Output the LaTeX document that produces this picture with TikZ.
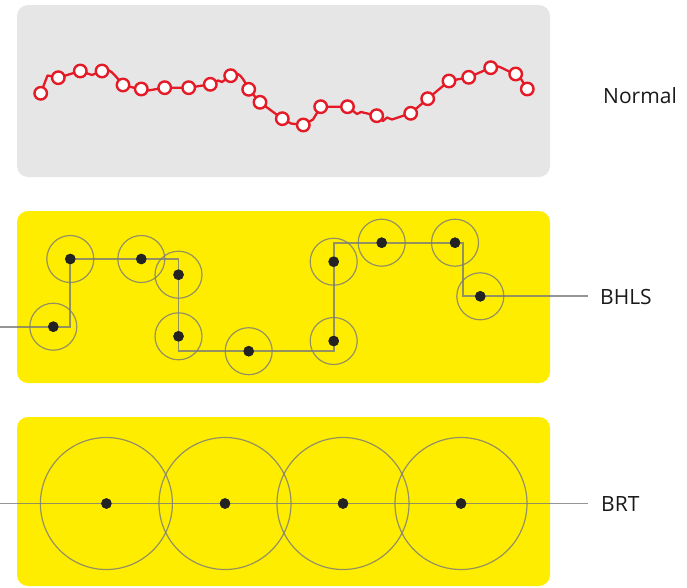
\documentclass[tikz,border=0pt]{standalone}
\usepackage{fontspec}
\setmainfont{Open Sans}
\begin{document}
\begin{tikzpicture}[x=1pt,y=-1pt,
  panel/.style={rounded corners=11pt, draw=none},
  redmark/.style={circle, draw=redline, line width=2.4pt, fill=white, inner sep=0pt, minimum size=12.5pt},
  redpath/.style={draw=redline, line width=2.3pt, line join=round},
  stop/.style={circle, fill=dotcol, inner sep=0pt, minimum size=10.5pt},
  zone/.style={draw=linecol, line width=1.2pt, opacity=0.8},
  route/.style={draw=linecol, line width=1.7pt, opacity=0.8},
  lbl/.style={anchor=west, font=\fontsize{21}{24}\selectfont, inner sep=0pt, text=black!90}]
\definecolor{graypanel}{RGB}{230,230,230}
\definecolor{yel}{RGB}{255,237,0}
\definecolor{redline}{RGB}{228,26,38}
\definecolor{dotcol}{RGB}{35,35,35}
\definecolor{linecol}{RGB}{122,122,122}

\useasboundingbox (0,0) rectangle (687,587);

% background panels
\fill[panel, graypanel] (17,5) rectangle (550,177);
\fill[panel, yel] (17,211) rectangle (550,383);
\fill[panel, yel] (17,417) rectangle (550,586);

% ---------- Normal bus: many closely spaced stops ----------
\foreach \n/\x/\y in {n1/40.7/93.3, n2/58.3/77.7, n3/80.3/71, n4/102/71, n5/123/85,
  n6/141.3/89, n7/164.7/87.7, n8/188.7/87.7, n9/210.3/84.3, n10/230.7/75.7,
  n11/248.7/89.3, n12/260/102.3, n13/282.3/118.7, n14/303.3/125, n15/320.7/106.7,
  n16/347.5/106.7, n17/376.7/115.7, n18/410.7/113.3, n19/427.7/98.7, n20/449/81,
  n21/468.7/77.3, n22/490.7/67.7, n23/515.7/74, n24/527.3/89}
  \coordinate (\n) at (\x,\y);

\draw[redpath] (n1) -- (47.5,75.5) -- (n2) -- (n3) -- (92,75) -- (n4)
  .. controls (108,66) and (114,74) .. (n5) -- (133,87.5) -- (n6) -- (148,90.5) -- (n7)
  -- (n8) -- (n9) -- (218,80.5) -- (222,82) -- (n10)
  .. controls (238,69) and (243,78) .. (n11) -- (n12) -- (n13) -- (291,123.5) -- (n14)
  -- (313,119.5) -- (n15) -- (n16) -- (357,114) -- (361,112) -- (n17)
  -- (383,121) -- (387,117.5) -- (392,119.5) -- (n18) -- (n19) -- (n20) -- (n21)
  -- (n22) .. controls (498,63) and (503,70) .. (n23) -- (521,79) -- (n24);

\foreach \n in {n1,n2,n3,n4,n5,n6,n7,n8,n9,n10,n11,n12,n13,n14,n15,n16,n17,n18,n19,n20,n21,n22,n23,n24}
  \node[redmark] at (\n) {};

\node[lbl] (normal) at (603,96) {Normal};

% ---------- BHLS: fewer stops with catchment areas ----------
\node[stop] (A) at (53.3,326.7) {};
\node[stop] (B) at (70.3,259) {};
\node[stop] (C) at (141.3,259) {};
\node[stop] (D) at (178.5,274.7) {};
\node[stop] (E) at (178.5,336.3) {};
\node[stop] (F) at (248.7,351.2) {};
\node[stop] (G) at (333.7,341) {};
\node[stop] (H) at (333.7,261.7) {};
\node[stop] (I) at (381.7,242.7) {};
\node[stop] (J) at (455,242.7) {};
\node[stop] (K) at (480.3,296.3) {};
\node[lbl] (bhls) at (600,297) {BHLS};

\coordinate (bstart) at (0,326.7);
\coordinate (jturn) at (463,242.7);
\coordinate (bend) at (587.5,296.3);

\foreach \s in {A,B,C,D,E,F,G,H,I,J,K}
  \draw[zone] (\s) circle[radius=23.5];

\draw[route] (bstart) -- (A.center) -| (B.center) -- (C.center) -| (D.center)
  -- (E.center) |- (F.center) -| (G.center) -- (H.center) |- (I.center)
  -- (J.center) -- (jturn) |- (K.center) -- (bend);

\foreach \s in {A,B,C,D,E,F,G,H,I,J,K}
  \node[stop] at (\s) {};

% ---------- BRT: widely spaced stations ----------
\node[stop] (R1) at (106.4,503.5) {};
\node[stop] (R2) at (225,503.5) {};
\node[stop] (R3) at (343,503.5) {};
\node[stop] (R4) at (461,503.5) {};
\node[lbl] (brt) at (601,504) {BRT};

\coordinate (rstart) at (0,503.5);
\coordinate (rend) at (587.5,503.5);

\foreach \s in {R1,R2,R3,R4}
  \draw[zone] (\s) circle[radius=66];

\draw[route] (rstart) -- (R1.center) -- (R2.center) -- (R3.center) -- (R4.center) -- (rend);

\foreach \s in {R1,R2,R3,R4}
  \node[stop] at (\s) {};
\end{tikzpicture}
\end{document}
